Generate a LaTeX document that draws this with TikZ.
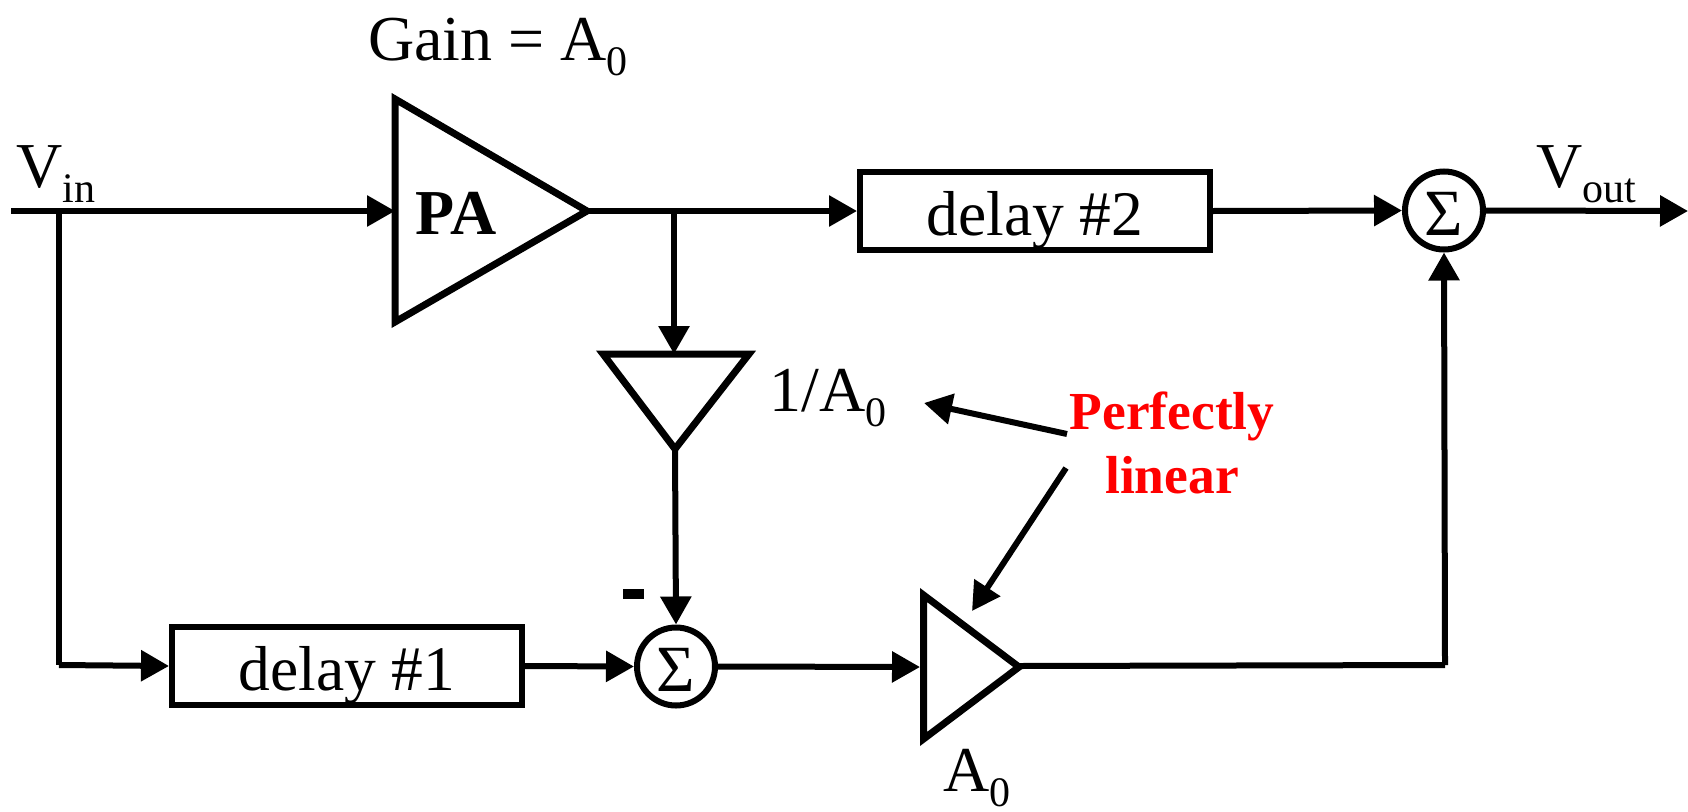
\documentclass[tikz,border=0pt]{standalone}
\usepackage{fontspec}
\setmainfont{Liberation Serif}
\usetikzlibrary{arrows.meta}
\tikzset{
 wire/.style={line width=6pt,line cap=butt,line join=miter},
 arr/.style={wire,-{Triangle[length=28pt,width=30pt]}},
 shp/.style={line width=7pt,draw=black,line join=miter,miter limit=10},
 boxn/.style={draw=black,line width=6pt,rectangle,minimum width=350pt,minimum height=78pt,inner sep=0pt,font=\fontsize{63.5}{63.5}\selectfont},
 sumn/.style={draw=black,line width=6pt,circle,minimum size=78pt,inner sep=0pt,font=\fontsize{66}{66}\selectfont},
 lab/.style={inner sep=0pt,anchor=base west,font=\fontsize{64}{64}\selectfont},
 redl/.style={inner sep=0pt,text=red,align=center,font=\fontsize{53.5}{64.5}\selectfont\bfseries},
}
\newcommand{\sbs}[1]{\raisebox{-15pt}{\fontsize{42}{42}\selectfont #1}}
\newcommand{\boxtxt}[1]{\raisebox{-24pt}[0pt][0pt]{#1}}
\newcommand{\sumtxt}{\raisebox{-25pt}[0pt][0pt]{Σ}}
\begin{document}
\begin{tikzpicture}[x=1pt,y=-1pt]
\useasboundingbox (0,0) rectangle (1688,811);
% nodes
\coordinate (vinS) at (11,211);
\coordinate (vinJ) at (59,211);
\coordinate (vinB) at (59,665);
\coordinate (paIn) at (395,211);
\coordinate (paOut) at (587,211);
\coordinate (tap) at (674,211);
\coordinate (tIn) at (674,354);
\coordinate (tOut) at (675,449);
\coordinate (ampIn) at (920,667);
\coordinate (ampOut) at (1019,666);
\coordinate (cor) at (1445,665);
\coordinate (outEnd) at (1688,211);
\coordinate (rS1) at (1067,434);
\coordinate (rE1) at (924,403);
\coordinate (rS2) at (1066,468);
\coordinate (rE2) at (972,611);
\node[boxn] (d2) at (1035,211) {\boxtxt{delay \#2}};
\node[boxn] (d1) at (347,666) {\boxtxt{delay \#1}};
\node[sumn] (s2) at (1444,210.5) {\sumtxt};
\node[sumn] (s1) at (676,666.5) {\sumtxt};
\draw[shp] (395,99) -- (587,211) -- (395,322) -- cycle;
\draw[shp] (603,354) -- (749,354) -- (675,449) -- cycle;
\draw[shp] (923.5,595) -- (1019,667) -- (923.5,739) -- cycle;
\node[inner sep=0pt,anchor=base,font=\fontsize{64}{64}\selectfont\bfseries] (pa) at (456,234) {PA};
\node[lab] (gain) at (368,60) {Gain = A\sbs{0}};
\node[lab] (vin) at (16,187) {V\sbs{in}};
\node[lab] (vout) at (1536,187) {V\sbs{out}};
\node[lab] (ia) at (769,411) {1/A\sbs{0}};
\node[lab] (a0) at (943,791) {A\sbs{0}};
\node[redl] (pl) at (1172,443) {Perfectly\\linear};
\node[inner sep=0pt,fill=black,minimum width=21pt,minimum height=10pt] (minus) at (633.5,594) {};
% connectors
\draw[arr] (vinS) -- (paIn);
\draw[wire] (vinJ) -- (vinB);
\draw[arr] (vinB) -- (d1.west);
\draw[arr] (paOut) -- (d2.west);
\draw[arr] (tap) -- (tIn);
\draw[arr] (tOut) -- (s1.north);
\draw[arr] (d1.east) -- (s1.west);
\draw[arr] (s1.east) -- (ampIn);
\draw[wire] (ampOut) -- (cor);
\draw[arr] (cor) -- (s2.south);
\draw[arr] (d2.east) -- (s2.west);
\draw[arr] (s2.east) -- (outEnd);
\draw[arr] (rS1) -- (rE1);
\draw[arr] (rS2) -- (rE2);
\end{tikzpicture}
\end{document}
